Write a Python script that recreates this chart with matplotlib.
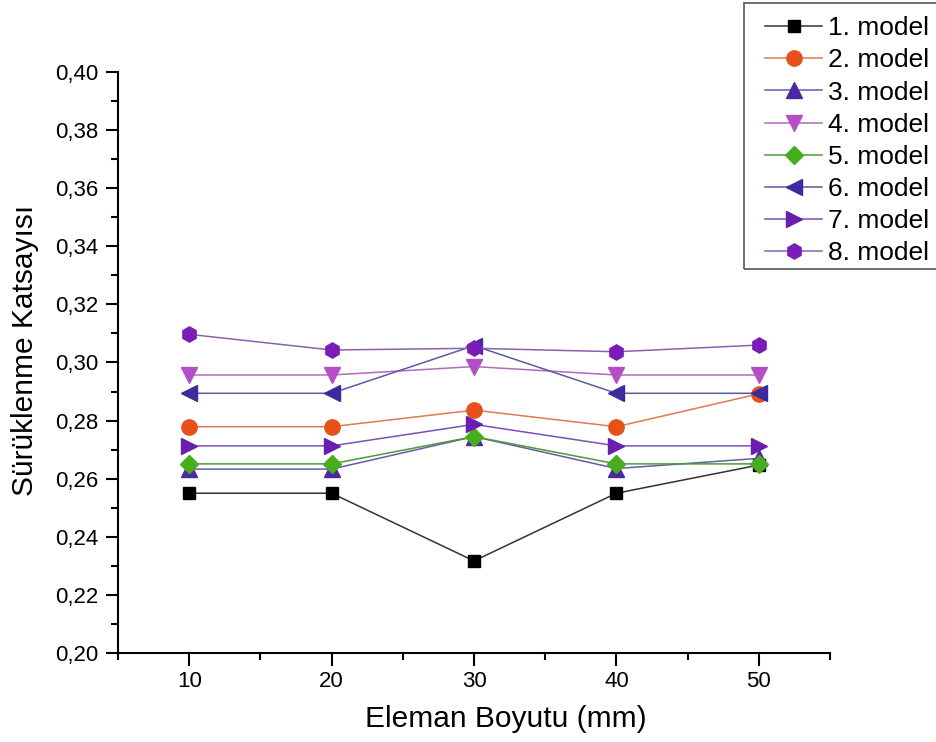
import matplotlib
matplotlib.use('Agg')
from matplotlib import pyplot as plt
from matplotlib.patches import Rectangle
from matplotlib.ticker import FuncFormatter, MultipleLocator
import numpy as np

plt.rcParams['font.family'] = ['Liberation Sans', 'DejaVu Sans']

eleman_boyutu = [10, 20, 30, 40, 50]
labels = ['1. model', '2. model', '3. model', '4. model',
          '5. model', '6. model', '7. model', '8. model']
model1 = [0.255, 0.255, 0.2317, 0.255, 0.2647]
model2 = [0.2779, 0.2779, 0.2836, 0.2779, 0.2892]
model3 = [0.2633, 0.2633, 0.2745, 0.2635, 0.2670]
model4 = [0.2957, 0.2957, 0.2986, 0.2957, 0.2957]
model5 = [0.2651, 0.2651, 0.2745, 0.2651, 0.2651]
model6 = [0.2894, 0.2894, 0.3058, 0.2894, 0.2894]
model7 = [0.2713, 0.2713, 0.2787, 0.2713, 0.2713]
model8 = [0.3097, 0.3043, 0.3049, 0.3037, 0.3060]

series = [model1, model2, model3, model4, model5, model6, model7, model8]
markers = ['s', 'o', '^', 'v', 'D', '<', '>', 'h']
colors = ['#000000', '#e8501a', '#4a2a9e', '#b44fc6', '#46ad1c',
          '#3d2a9c', '#6a1eb0', '#7a1cb6']
linecolors = ['#333333', '#e07a50', '#6a5aa8', '#b06ac0', '#4c9a3a',
              '#5a5aa0', '#7a50b8', '#8a60b0']
msizes = [9, 11, 11, 11, 9.5, 11, 11, 11]

fig = plt.figure(figsize=(9.36, 7.42), dpi=100)
ax = fig.add_axes([118/936, 1 - 653/742, (830-118)/936, (653-72)/742])

for vals, lab, m, c, lc, ms in zip(series, labels, markers, colors, linecolors, msizes):
    ax.plot(eleman_boyutu, vals, marker=m, color=lc, markerfacecolor=c,
            markeredgecolor=c, markersize=ms, linewidth=1.1, label=lab)

ax.set_xlim(5, 55)
ax.set_ylim(0.20, 0.40)
ax.xaxis.set_major_locator(MultipleLocator(10))
ax.xaxis.set_minor_locator(MultipleLocator(5))
ax.yaxis.set_major_locator(MultipleLocator(0.02))
ax.yaxis.set_minor_locator(MultipleLocator(0.01))
ax.yaxis.set_major_formatter(FuncFormatter(lambda v, p: f'{v:.2f}'.replace('.', ',')))

for s in ['top', 'right']:
    ax.spines[s].set_visible(False)
for s in ['left', 'bottom']:
    ax.spines[s].set_linewidth(1.5)
ax.tick_params(which='major', direction='out', length=9, width=1.5, labelsize=16)
ax.tick_params(axis='x', which='major', pad=4)
ax.tick_params(axis='y', which='major', pad=5)
ax.tick_params(which='minor', direction='out', length=5, width=1.5)

ax.set_xlabel('Eleman Boyutu (mm)', fontsize=21.5)
ax.set_ylabel('Sürüklenme Katsayısı', fontsize=21.5)
ax.xaxis.label.set_va('center')
ax.yaxis.label.set_va('center')
ax.xaxis.set_label_coords(0.545, (653 - 719) / 581)
ax.yaxis.set_label_coords((25 - 118) / 712, (653 - 350) / 581)

# legend without its own frame, frame drawn separately so it runs off the right edge
fig.legend(loc='upper left', bbox_to_anchor=(756/936, 1 - 7/742),
           fontsize=19, frameon=False, borderaxespad=0,
           handlelength=2.15, labelspacing=0.31, borderpad=0.35,
           handletextpad=0.23)
fig.patches.append(Rectangle((744/936, 1 - 269/742), (945 - 744)/936, (269 - 3)/742,
                             transform=fig.transFigure, fill=False,
                             edgecolor='#555555', linewidth=1.2))

fig.savefig('out.png', dpi=100)
